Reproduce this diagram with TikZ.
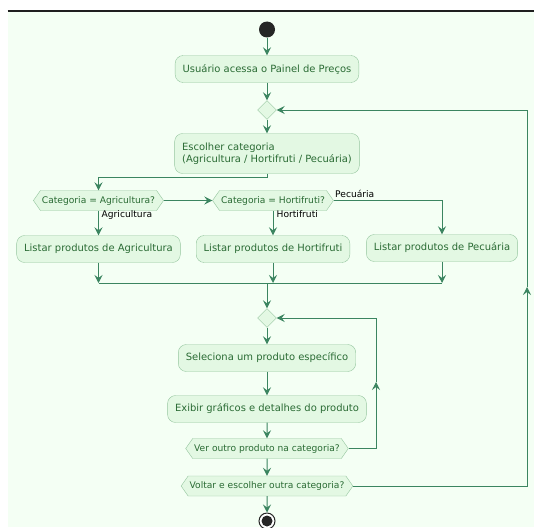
\documentclass[tikz,border=0pt]{standalone}
\usepackage{fontspec}
\setmainfont{DejaVu Sans}
\usetikzlibrary{shapes.geometric,shapes.symbols,arrows.meta}
\definecolor{bgmint}{HTML}{F4FFF4}
\definecolor{boxfill}{HTML}{E3F8E3}
\definecolor{boxline}{HTML}{94C59E}
\definecolor{txtgreen}{HTML}{2A6B34}
\definecolor{flowgreen}{HTML}{3B8560}
\begin{document}
\begin{tikzpicture}[x=1pt, y=-1pt,
	act/.style={draw=boxline, fill=boxfill, rounded corners=8pt, text=txtgreen, font=\fontsize{9.96}{12}\selectfont, minimum height=27pt, inner xsep=7.5pt},
	cond/.style={signal, signal to=west and east, signal pointer angle=110, draw=boxline, fill=boxfill, text=txtgreen, font=\fontsize{9.13}{11}\selectfont, minimum height=20pt, inner xsep=1.5pt, inner ysep=0pt},
	merge/.style={diamond, draw=boxline, fill=boxfill, minimum width=19pt, minimum height=19pt, inner sep=0pt},
	flow/.style={draw=flowgreen, line width=1pt, -{Stealth[length=8pt,width=8pt,inset=3pt]}},
	link/.style={draw=flowgreen, line width=1pt},
	lbl/.style={font=\fontsize{9.13}{11}\selectfont, inner sep=0pt, anchor=west}]
	
	\useasboundingbox (0,0) rectangle (534,527);
	\fill[bgmint] (7.5,12) rectangle (534,527);
	\draw[line width=2pt, black!88] (7.5,11) -- (534,11);
	
	\node[circle, fill=black!85, minimum size=16pt, inner sep=0pt] (start) at (267,29.5) {};
	\node[act] (usr) at (267,69) {Usuário acessa o Painel de Preços};
	\node[merge] (d1) at (267,110) {};
	\node[act, align=left, minimum height=40pt] (cat) at (267,153.5) {Escolher categoria\\(Agricultura / Hortifruti / Pecuária)};
	
	\node[cond] (agr) at (98.5,200.5) {Categoria = Agricultura?};
	\node[cond] (hort) at (273,200.5) {Categoria = Hortifruti?};
	\node[lbl] (tagr) at (101.5,214.5) {Agricultura};
	\node[lbl] (thort) at (276.5,214.5) {Hortifruti};
	\node[lbl] (tpec) at (335,194) {Pecuária};
	
	\node[act] (lagr) at (98.5,249) {Listar produtos de Agricultura};
	\node[act] (lhort) at (273,249) {Listar produtos de Hortifruti};
	\node[act] (lpec) at (442,248) {Listar produtos de Pecuária};
	
	\coordinate (mleft) at (98.5,283);
	\coordinate (mright) at (442,283);
	\coordinate (mjoin) at (267,283);
	
	\node[merge] (d2) at (267,318) {};
	\node[act] (sel) at (267,358) {Seleciona um produto específico};
	\node[act] (exi) at (267,409) {Exibir gráficos e detalhes do produto};
	\node[cond] (ver) at (267,448.5) {Ver outro produto na categoria?};
	\node[cond] (vol) at (267,486) {Voltar e escolher outra categoria?};
	\node[circle, draw=black!85, fill=white, line width=1pt, minimum size=16pt, inner sep=0pt] (end) at (267,521) {};
	\fill[black!85] (end) circle (5.5pt);
	
	\coordinate (up1) at (376,382);
	\coordinate (up2) at (527,287);
	
	\draw[flow] (start) -- (usr);
	\draw[flow] (usr) -- (d1);
	\draw[flow] (d1) -- (cat);
	\draw[flow] (cat.south) -- ++(0,4) -| (agr.north);
	\draw[flow] (agr.east) -- (hort.west);
	\draw[flow] (agr.south) -- (lagr.north);
	\draw[flow] (hort.south) -- (lhort.north);
	\draw[flow] (hort.east) -| (lpec.north);
	
	\draw[link] (mleft) -- (mright);
	\draw[flow] (lagr.south) -- (mleft);
	\draw[flow] (lhort.south) -- (lhort.south |- mjoin);
	\draw[flow] (lpec.south) -- (mright);
	\draw[flow] (mjoin) -- (d2);
	
	\draw[flow] (d2) -- (sel);
	\draw[flow] (sel) -- (exi);
	\draw[flow] (exi) -- (ver);
	\draw[flow] (ver) -- (vol);
	\draw[flow] (vol) -- (end);
	
	\draw[flow] (ver.east) -| (up1);
	\draw[flow] (up1) |- (d2.east);
	\draw[flow] (vol.east) -| (up2);
	\draw[flow] (up2) |- (d1.east);
\end{tikzpicture}
\end{document}
